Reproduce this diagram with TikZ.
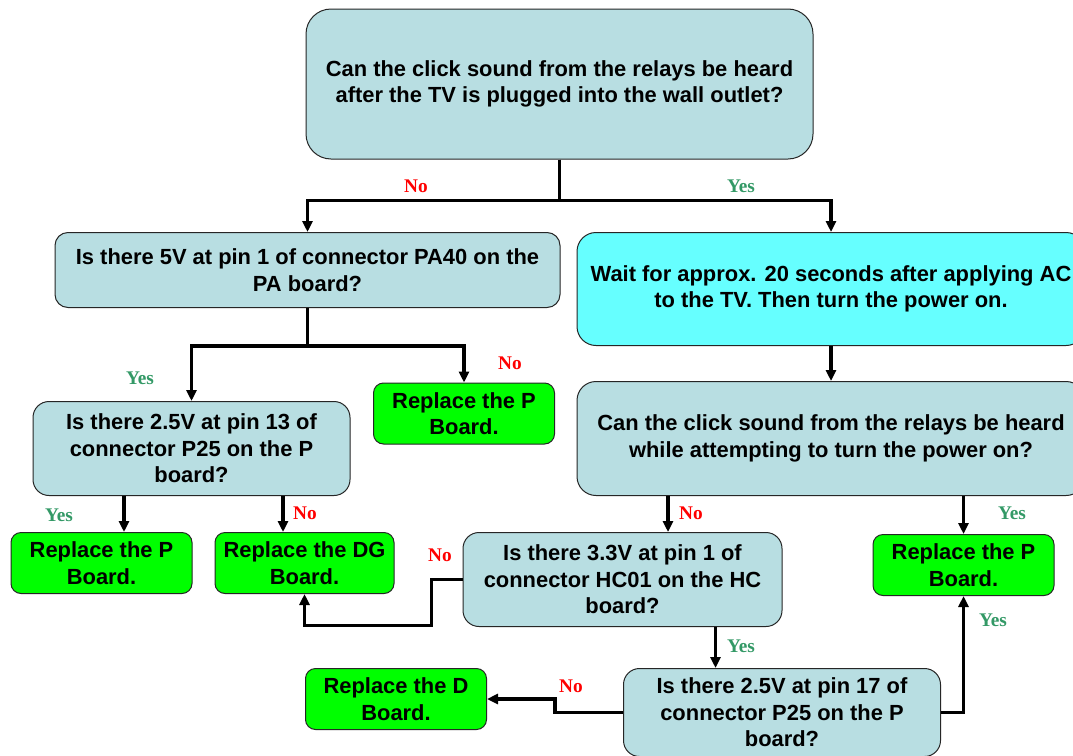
\documentclass[tikz,border=0pt]{standalone}
\usepackage{fontspec}
\setmainfont{Liberation Sans}
\newfontfamily\labelfont{Liberation Serif}
\usetikzlibrary{arrows.meta}
\definecolor{qblue}{RGB}{184,222,226}
\definecolor{waitcyan}{RGB}{102,255,255}
\definecolor{boardgreen}{RGB}{0,255,0}
\definecolor{yesgreen}{RGB}{51,153,102}
\definecolor{nored}{RGB}{255,0,0}
\tikzset{
	box/.style={draw=black!85, line width=1pt, align=center, inner sep=0pt,
		font=\bfseries\fontsize{21.9}{26.5}\selectfont},
	question/.style={box, fill=qblue},
	action/.style={box, fill=waitcyan, rounded corners=19pt},
	board/.style={box, fill=boardgreen, rounded corners=10pt,
		minimum width=181pt, minimum height=61pt},
	conn/.style={line width=3.3pt, ->, >={Triangle[length=11pt,width=10pt]}},
	yeslabel/.style={text=yesgreen, font=\labelfont\bfseries\fontsize{19.3}{20}\selectfont},
	nolabel/.style={yeslabel, text=nored},
}
\begin{document}
\begin{tikzpicture}[x=1pt, y=-1pt]
		\clip (0,0) rectangle (1073,755);
		\fill[white] (0,0) rectangle (1073,755);
		\node[question, rounded corners=25pt, minimum width=507pt, minimum height=150pt] (q1) at (559.5,84)
		{Can the click sound from the relays be heard\\after the TV is plugged into the wall outlet?};
		\node[question, rounded corners=13pt, minimum width=505pt, minimum height=75pt] (q2) at (307.5,270)
		{Is there 5V at pin 1 of connector PA40 on the\\PA board?};
		\node[action, minimum width=508pt, minimum height=113pt] (wait) at (831,289)
		{Wait for approx. 20 seconds after applying AC\\to the TV. Then turn the power on.};
		\node[question, rounded corners=19pt, minimum width=508pt, minimum height=114pt] (q3) at (831,438.5)
		{Can the click sound from the relays be heard\\while attempting to turn the power on?};
		\node[question, rounded corners=16pt, minimum width=317pt, minimum height=94pt] (q4) at (191.5,448.5)
		{Is there 2.5V at pin 13 of\\connector P25 on the P\\board?};
		\node[board] (pa) at (464,413.5) {Replace the P\\Board.};
		\node[board] (pb) at (101.5,563) {Replace the P\\Board.};
		\node[board, minimum width=179pt] (dg) at (304.5,563) {Replace the DG\\Board.};
		\node[question, rounded corners=16pt, minimum width=319pt, minimum height=94pt] (q5) at (622.5,579.5)
		{Is there 3.3V at pin 1 of\\connector HC01 on the HC\\board?};
		\node[board] (pc) at (963.5,565) {Replace the P\\Board.};
		\node[board] (dd) at (396,699) {Replace the D\\Board.};
		\node[question, rounded corners=16pt, minimum width=317pt, minimum height=88pt] (q6) at (782,712.5)
		{Is there 2.5V at pin 17 of\\connector P25 on the P\\board?};

		\draw[conn] (q1.south) -- ++(0,41) -| (q2.north);
		\draw[conn] (q1.south) -- ++(0,41) -| (wait.north);
		\draw[conn] (wait.south) -- (q3.north);
		\draw[conn] (q2.south) -- ++(0,38) -| (q4.north);
		\draw[conn] (q2.south) -- ++(0,38) -| (pa.north);
		\draw[conn] (q4.south) ++(-67.5,0) coordinate (q4l) -- (q4l |- pb.north);
		\draw[conn] (q4.south) ++(91.5,0) coordinate (q4r) -- (q4r |- dg.north);
		\draw[conn] (q3.south) ++(-163,0) coordinate (q3l) -- (q3l |- q5.north);
		\draw[conn] (q3.south -| pc.north) -- (pc.north);
		\draw[conn] (q5.west) -| ++(-31,46) -| (dg.south);
		\draw[conn] (q5.south) ++(93,0) coordinate (q5d) -- (q5d |- q6.north);
		\draw[conn] (q6.west) -- ++(-68,0) |- (dd.east);
		\draw[conn] (q6.east) -| (pc.south);

		\node[nolabel] (n1) at (416,186) {No};
		\node[yeslabel] (y1) at (741,186) {Yes};
		\node[yeslabel] (y2) at (140,378) {Yes};
		\node[nolabel] (n2) at (510,363) {No};
		\node[yeslabel] (y3) at (59,515) {Yes};
		\node[nolabel] (n3) at (305,513) {No};
		\node[nolabel] (n4) at (691,513) {No};
		\node[yeslabel] (y4) at (1012,513) {Yes};
		\node[nolabel] (n5) at (440,555) {No};
		\node[yeslabel] (y5) at (741,646) {Yes};
		\node[nolabel] (n6) at (571,686) {No};
		\node[yeslabel] (y6) at (993,620) {Yes};
	\end{tikzpicture}
\end{document}
